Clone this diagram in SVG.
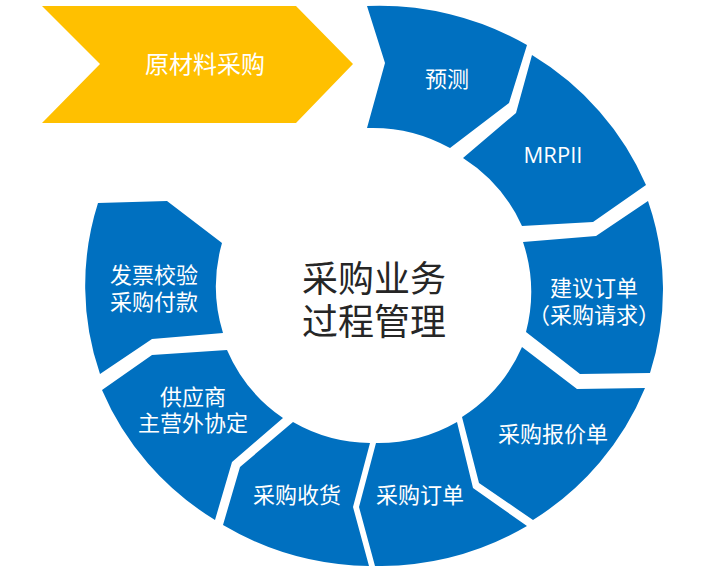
<svg xmlns="http://www.w3.org/2000/svg" width="712" height="566" viewBox="0 0 712 566">
  <style>
    .seg { fill: #0070C0; }
    .arrow { fill: #FFC000; }
    .lbl { font-family: "Noto Sans CJK SC", "Noto Sans", sans-serif; font-size: 22px; fill: #FFFFFF; text-anchor: middle; }
    .lat { font-family: "Open Sans", "Noto Sans", sans-serif; font-size: 22px; fill: #FFFFFF; text-anchor: middle; }
    .big { font-family: "Noto Sans CJK SC", sans-serif; font-size: 24px; fill: #FFFFFF; text-anchor: middle; }
    .center { font-family: "Noto Sans CJK SC", sans-serif; font-size: 36px; fill: #262626; text-anchor: middle; }
  </style>
  <rect width="712" height="566" fill="#FFFFFF"/>

  <g id="node-raw-material">
    <polygon class="arrow" points="42,6 296,6 353,64 296,123 42,123 100,64"/>
    <text class="big" x="205" y="73">原材料采购</text>
  </g>

  <g id="node-forecast">
    <path class="seg" d="M367,6 A289,280 0 0 1 527,45 L509,103 L450,148 A158,158 0 0 0 367,128 L385,63 Z"/>
    <text class="lbl" x="447" y="87">预测</text>
  </g>

  <g id="node-mrpii">
    <path class="seg" d="M532,55 A289,280 0 0 1 646,185 L593,222 L522,226 A158,158 0 0 0 463,158 L516,113 Z"/>
    <text class="lat" x="553" y="163">MRPII</text>
  </g>

  <g id="node-suggest-order">
    <path class="seg" d="M648,201 A289,280 0 0 1 650,373 L580,374 L526,332 A158,158 0 0 0 523,242 L596,236 Z"/>
    <text class="lbl" x="594" y="296">建议订单</text>
    <text class="lbl" x="594" y="323">（采购请求）</text>
  </g>

  <g id="node-quotation">
    <path class="seg" d="M645,388 A289,280 0 0 1 533,520 L479,483 L462,417 A158,158 0 0 0 522,347 L577,389 Z"/>
    <text class="lbl" x="553" y="442">采购报价单</text>
  </g>

  <g id="node-purchase-order">
    <path class="seg" d="M527,526 A289,280 0 0 1 375,566 L359,507 L376,443 A158,158 0 0 0 457,422 L473,488 Z"/>
    <text class="lbl" x="420" y="503">采购订单</text>
  </g>

  <g id="node-receipt">
    <path class="seg" d="M369,566 A289,280 0 0 1 223,525 L240,467 L293,422 A158,158 0 0 0 370,443 L353,507 Z"/>
    <text class="lbl" x="297" y="503">采购收货</text>
  </g>

  <g id="node-supplier">
    <path class="seg" d="M215,520 A289,280 0 0 1 102,390 L152,355 L227,350 A158,158 0 0 0 283,418 L232,462 Z"/>
    <text class="lbl" x="193" y="405">供应商</text>
    <text class="lbl" x="193" y="431">主营外协定</text>
  </g>

  <g id="node-invoice">
    <path class="seg" d="M100,374 A289,280 0 0 1 98,203 L167,201 L222,243 A158,158 0 0 0 223,333 L152,339 Z"/>
    <text class="lbl" x="154" y="283">发票校验</text>
    <text class="lbl" x="154" y="310">采购付款</text>
  </g>

  <g id="node-center">
    <text class="center" x="374" y="292">采购业务</text>
    <text class="center" x="374" y="335">过程管理</text>
  </g>

  <g id="connectors"></g>
</svg>
